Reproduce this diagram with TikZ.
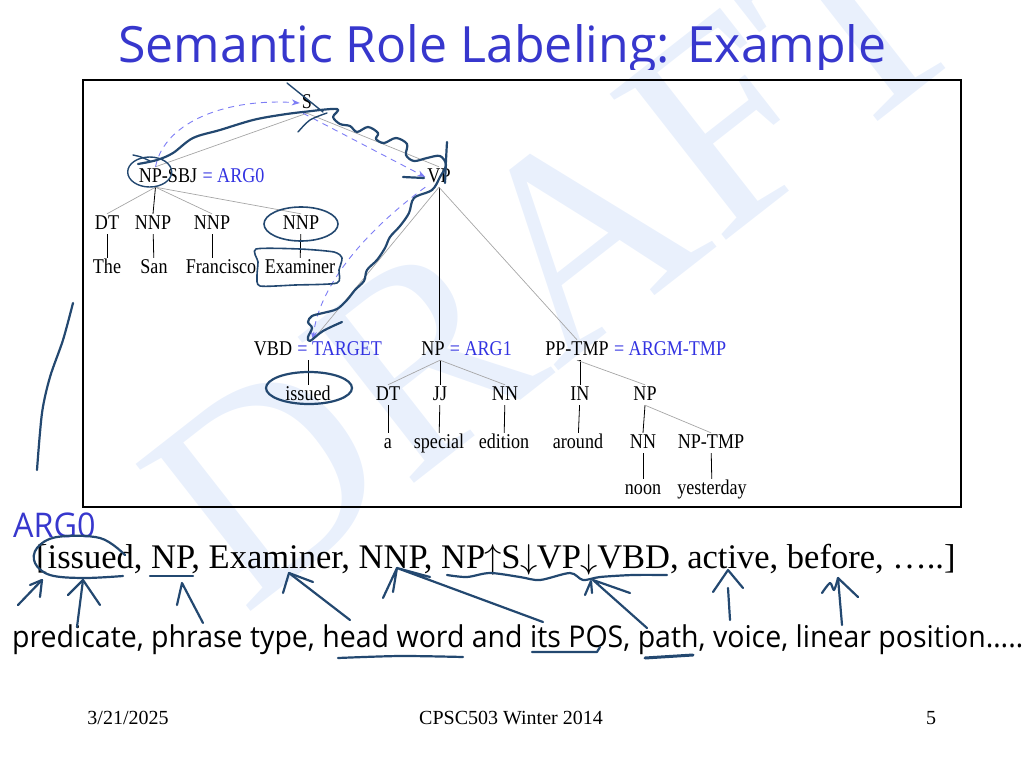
\RequirePackage{fix-cm}
\documentclass[tikz,border=0pt]{standalone}
\usepackage{fontspec}
\setmainfont{Liberation Serif}
\newfontfamily\titlefont{Open Sans}
\newfontfamily\handfont{Open Sans}[FakeStretch=0.95]
\newfontfamily\treefont{Liberation Serif}[FakeStretch=0.86]
\usetikzlibrary{arrows.meta,calc,positioning}

\definecolor{titleblue}{RGB}{55,55,205}
\definecolor{roleblue}{RGB}{50,50,225}
\definecolor{pathblue}{RGB}{125,125,245}
\definecolor{inkblue}{RGB}{35,72,112}
\definecolor{wmblue}{RGB}{233,240,252}

\tikzset{
  cat/.style={font=\treefont\fontsize{21}{21}\selectfont, text height=13pt, text depth=3pt, inner sep=2pt, anchor=base},
  role/.style={cat, text=roleblue, anchor=base west, inner sep=0pt},
  branch/.style={draw=gray!70, line width=0.7pt},
  stem/.style={draw=black, line width=0.8pt},
  hop/.style={draw=pathblue, line width=0.9pt, dash pattern=on 6pt off 5pt, -{Stealth[length=8pt,width=6pt]}},
  ink/.style={draw=inkblue, line width=2.2pt, line cap=round, line join=round},
  thinink/.style={ink, line width=1.4pt},
  foot/.style={font=\fontsize{20}{20}\selectfont, anchor=base},
}
\newcommand{\goup}{\kern-0.5pt$\uparrow$\kern-0.5pt}
\newcommand{\godown}{\kern-0.5pt$\downarrow$\kern-0.5pt}

\begin{document}
\begin{tikzpicture}[x=1pt, y=-1pt, >=Latex]
  \useasboundingbox (0,0) rectangle (1024,768);

  % watermark
  \node[rotate=38, text=wmblue, font=\fontsize{285}{285}\selectfont] (draft) at (555,255) {DRAFT};

  % title, cut at the bottom as on the slide
  \begin{scope}
    \clip (0,0) rectangle (1024,69);
    \node[anchor=base west, inner sep=0pt, text=titleblue, font=\titlefont\fontsize{50}{50}\selectfont] (title) at (118,63) {Semantic Role Labeling: Example};
  \end{scope}

  \draw[line width=2.5pt] (83,80) rectangle (961,507);

  % parse tree
  \node[cat] (s) at (307,108) {S};
  \node[cat] (npsbj) at (168,182) {NP-SBJ};
  \node[role] (arg0) at ([xshift=3pt]npsbj.base east) {= ARG0};
  \node[cat] (vp) at (439,182) {VP};

  \node[cat] (dt1) at (107,229) {DT};
  \node[cat] (nnp1) at (153,229) {NNP};
  \node[cat] (nnp2) at (212,229) {NNP};
  \node[cat] (nnp3) at (301,229) {NNP};
  \node[cat] (the) at (107,273) {The};
  \node[cat] (san) at (154,273) {San};
  \node[cat] (francisco) at (221,273) {Francisco};
  \node[cat] (examiner) at (300,273) {Examiner};

  \node[cat] (vbd) at (273,355) {VBD};
  \node[role] (target) at ([xshift=3pt]vbd.base east) {= TARGET};
  \node[cat] (np1) at (433,355) {NP};
  \node[role] (arg1) at ([xshift=3pt]np1.base east) {= ARG1};
  \node[cat] (pptmp) at (577,355) {PP-TMP};
  \node[role] (argm) at ([xshift=3pt]pptmp.base east) {= ARGM-TMP};

  \node[cat] (issued) at (308,400) {issued};
  \node[cat] (dt2) at (388,400) {DT};
  \node[cat] (jj) at (440,400) {JJ};
  \node[cat] (nn1) at (505,400) {NN};
  \node[cat] (in) at (580,400) {IN};
  \node[cat] (np2) at (645,400) {NP};

  \node[cat] (a) at (388,448) {a};
  \node[cat] (special) at (439,448) {special};
  \node[cat] (edition) at (504,448) {edition};
  \node[cat] (around) at (578,448) {around};
  \node[cat] (nn2) at (643,448) {NN};
  \node[cat] (nptmp) at (711,448) {NP-TMP};
  \node[cat] (noon) at (643,494) {noon};
  \node[cat] (yesterday) at (712,494) {yesterday};

  \coordinate (sbjtop) at ($(npsbj.north west)!0.3!(npsbj.north east)$);
  \coordinate (sbjbot) at ($(npsbj.south west)!0.3!(npsbj.south east)$);
  \coordinate (vbdtop) at ([xshift=5pt]issued.north |- vbd.north);

  \draw[branch] (s.south) -- (sbjtop);
  \draw[branch] (s.south) -- (vp.north);
  \draw[branch] (sbjbot) -- (dt1.north);
  \draw[stem] (sbjbot) -- (nnp1.north);
  \draw[branch] (sbjbot) -- (nnp2.north);
  \draw[branch] (sbjbot) -- (nnp3.north);
  \draw[stem] (dt1) -- (the);
  \draw[stem] (nnp1) -- (san);
  \draw[stem] (nnp2.south) -- (nnp2.south |- francisco.north);
  \draw[stem] (nnp3) -- (examiner);

  \draw[branch] (vp.south) -- (vbdtop);
  \draw[stem] (vp.south) -- (vp.south |- np1.north);
  \draw[branch] (vp.south) -- (pptmp.north);
  \draw[stem] (issued.north) -- (issued.north |- vbd.south);
  \draw[branch] (jj.north |- np1.south) -- (dt2.north);
  \draw[stem] (jj.north |- np1.south) -- (jj.north);
  \draw[branch] (jj.north |- np1.south) -- (nn1.north);
  \draw[stem] (pptmp.south) -- (pptmp.south -| in.north) -- (in.north);
  \draw[branch] (pptmp.south) -- (np2.north);
  \draw[stem] (np2.south) -- (nn2.north);
  \draw[branch] (np2.south) -- (nptmp.north);
  \draw[stem] (dt2) -- (a);
  \draw[stem] (jj) -- (special);
  \draw[stem] (nn1) -- (edition);
  \draw[stem] (in) -- (around);
  \draw[stem] (nn2) -- (noon);
  \draw[stem] (nptmp) -- (yesterday);

  % path from the argument to the predicate
  \draw[hop] (sbjtop) .. controls (165,120) and (230,98) .. (s.west);
  \draw[hop] ([xshift=-4pt]s.south) -- (vp.west);
  \draw[hop] (vp.south west) .. controls (360,235) and (318,290) .. (vbdtop);

  % pen marks on the tree
  \draw[ink] plot[smooth, tension=0.55] coordinates {(138,164) (157,160) (173,153) (193,138) (220,130) (253,120) (280,115) (303,112) (337,109) (333,117) (340,124) (350,126) (357,132) (368,127) (378,133) (376,139) (384,143) (396,138) (407,144) (406,155) (414,161) (427,158) (440,156) (446,165) (440,177) (432,190) (414,198) (409,213) (400,226) (390,237) (385,248) (377,260) (367,270) (364,281) (355,290) (347,300) (337,309) (323,313) (312,316) (308,322) (312,328) (308,337) (310,341) (323,331) (342,322)};
  \draw[thinink] (287,83) -- (323,112);
  \draw[thinink] plot[smooth] coordinates {(298,132) (310,120) (327,113)};
  \draw[ink] plot[smooth] coordinates {(447,142) (446,160) (445,183)};
  \draw[ink] (403,177) -- (424,178);
  \draw[thinink] plot[smooth] coordinates {(133,155) (141,157) (150,161)};
  \draw[thinink] (npsbj.west) ++(13,-5) ellipse [x radius=22, y radius=15];
  \draw[ink, line width=1.6pt] (nnp3.center) ellipse [x radius=37, y radius=17];
  \draw[ink, line width=1.6pt] plot[smooth cycle, tension=0.4] coordinates {(256,249) (300,249) (334,252) (342,258) (339,270) (337,283) (295,285) (260,286) (257,276) (258,262)};
  \draw[ink] (issued.center) ++(1,-7) ellipse [x radius=43, y radius=16];

  % feature vector
  \node[anchor=base west, inner sep=0pt, text=titleblue, font=\handfont\fontsize{34}{34}\selectfont] (argz) at (13,537) {ARG0};
  \node[anchor=base west, inner sep=0pt, font=\fontsize{34.5}{34.5}\selectfont] (vec) at (36,568) {[issued, NP, Examiner, NNP, NP\goup S\godown VP\godown VBD, active, before, …..]};
  \node[anchor=base west, inner sep=0pt, font=\handfont\fontsize{30}{30}\selectfont] (feat) at (12,647) {predicate, phrase type, head word and its POS, path, voice, linear position……};

  % pen marks on the feature vector
  \draw[ink] plot[smooth, tension=0.6] coordinates {(125,555) (100,538) (57,537) (37,548) (35,563) (50,575) (83,578) (123,576)};
  \draw[ink] (18,605) -- (42,580);
  \draw[ink] (30,585) -- (42,580) -- (40,597);
  \draw[ink] (77,627) -- (83,580);
  \draw[ink] (68,595) -- (83,580) -- (100,605);
  \draw[ink] (150,576) -- (193,576);
  \draw[ink] (177,605) -- (182,583) -- (203,623);
  \draw[ink] (283,593) -- (289,573) -- (313,582);
  \draw[ink] (289,573) -- (350,620);
  \draw[ink] (383,598) -- (397,568) -- (393,592);
  \draw[ink] (430,577) -- (397,568) -- (543,622);
  \draw[ink] plot[smooth] coordinates {(447,575) (467,577) (490,573) (520,577) (540,580) (570,573) (583,580) (600,577) (633,575) (667,575)};
  \draw[ink] (585,595) -- (591,581) -- (592,593);
  \draw[ink] (630,593) -- (593,580) -- (647,628);
  \draw[ink] (713,592) -- (728,570) -- (743,588);
  \draw[ink] (728,588) -- (730,620);
  \draw[ink] plot[smooth] coordinates {(822,593) (830,583) (834,590) (838,578)};
  \draw[ink] (858,597) -- (838,578) -- (842,625);
  \draw[ink] plot[smooth] coordinates {(338,658) (400,656) (463,657)};
  \draw[ink] (532,652) -- (597,652) -- (600,647);
  \draw[ink, line width=3pt] (645,658) -- (693,655);
  \draw[ink] plot[smooth] coordinates {(73,303) (63,340) (50,377) (42,413) (37,470)};

  % footer
  \node[foot] (date) at (128,724) {3/21/2025};
  \node[foot] (course) at (511,724) {CPSC503 Winter 2014};
  \node[foot] (page) at (931,724) {5};
\end{tikzpicture}
\end{document}
